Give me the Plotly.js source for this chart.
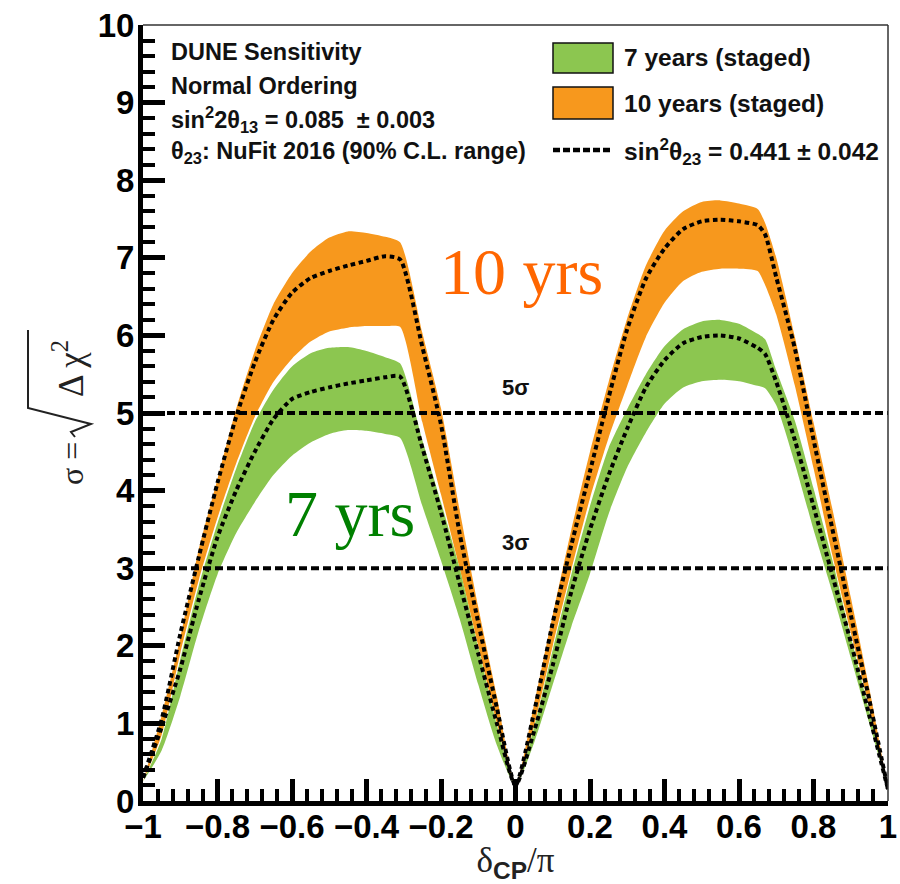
<!DOCTYPE html>
<html>
<head>
<meta charset="utf-8">
<script src="https://cdn.plot.ly/plotly-3.0.1.min.js"></script>
<style>html,body{margin:0;padding:0;background:#fff}</style>
</head>
<body>
<div id="chart" style="width:900px;height:884px"></div>
<script>
// δCP/π sampling points shared by all curves
const deltaCP = [-1, -0.95, -0.9, -0.85, -0.8, -0.75, -0.7, -0.65, -0.6, -0.55, -0.5, -0.45, -0.4, -0.35, -0.31,
  -0.25, -0.2, -0.15, -0.1, -0.05, 0, 0.05, 0.1, 0.15, 0.2, 0.25, 0.3, 0.35, 0.4, 0.45, 0.5, 0.55, 0.6, 0.65, 0.67,
  0.7, 0.75, 0.8, 0.85, 0.9, 0.95, 1];

// 10 years (staged): band edges and central sin²θ23 curve
const sig10Upper = [0.25, 1.1, 2.1, 3.25, 4.15, 5.05, 5.8, 6.4, 6.8, 7.08, 7.26, 7.34, 7.32, 7.27, 7.2,
  6.03, 5.06, 3.75, 2.5, 1.35, 0.2, 1.25, 2.4, 3.5, 4.5, 5.4, 6.22, 6.9, 7.35, 7.6, 7.72, 7.74, 7.7, 7.63, 7.45,
  7.0, 5.98, 4.88, 3.78, 2.63, 1.45, 0.15];
const sig10Lower = [0.25, 0.85, 1.9, 2.85, 3.65, 4.35, 4.95, 5.4, 5.7, 5.92, 6.05, 6.1, 6.12, 6.12, 6.11,
  4.88, 3.95, 3.0, 2.0, 1.0, 0.2, 0.97, 2.0, 2.98, 3.9, 4.68, 5.35, 5.98, 6.42, 6.7, 6.82, 6.86, 6.86, 6.83, 6.65,
  6.27, 5.35, 4.29, 3.18, 2.17, 1.2, 0.15];
const sig10Central = [0.3, 1.05, 2.15, 3.15, 4.1, 4.95, 5.65, 6.2, 6.55, 6.74, 6.83, 6.9, 6.96, 7.02, 6.98,
  5.85, 4.85, 3.45, 2.3, 1.2, 0.2, 1.15, 2.3, 3.3, 4.25, 5.2, 6.08, 6.73, 7.12, 7.37, 7.47, 7.49, 7.47, 7.42, 7.3,
  6.75, 5.83, 4.66, 3.52, 2.4, 1.3, 0.15];

// 7 years (staged): band edges and central sin²θ23 curve
const sig7Upper = [0.25, 0.8, 1.82, 2.78, 3.58, 4.28, 4.88, 5.3, 5.6, 5.77, 5.84, 5.85, 5.8, 5.72, 5.64,
  4.65, 3.85, 3.0, 1.98, 0.98, 0.2, 0.95, 1.95, 2.92, 3.8, 4.55, 5.05, 5.5, 5.86, 6.08, 6.18, 6.2, 6.15, 6.02, 5.95,
  5.55, 4.9, 4.03, 3.12, 2.12, 1.15, 0.15];
const sig7Lower = [0.25, 0.65, 1.35, 2.2, 2.92, 3.45, 3.85, 4.2, 4.45, 4.62, 4.73, 4.78, 4.77, 4.73, 4.68,
  3.8, 3.1, 2.35, 1.5, 0.72, 0.2, 0.75, 1.5, 2.25, 2.93, 3.7, 4.3, 4.75, 5.12, 5.33, 5.41, 5.43, 5.41, 5.35, 5.32,
  5.1, 4.35, 3.5, 2.7, 1.85, 1.0, 0.15];
const sig7Central = [0.3, 0.95, 1.7, 2.6, 3.4, 4.0, 4.5, 4.92, 5.18, 5.27, 5.33, 5.38, 5.42, 5.46, 5.47,
  4.55, 3.72, 2.8, 1.9, 1.0, 0.2, 0.9, 1.75, 2.7, 3.5, 4.2, 4.8, 5.33, 5.68, 5.9, 5.98, 6.0, 5.96, 5.84, 5.76,
  5.4, 4.65, 3.8, 2.92, 2.05, 1.1, 0.15];

// discovery thresholds
const sigmaLevels = [5, 3];
const sigmaLabels = ['5σ', '3σ'];
const xRange = [-1, 1];

const ORANGE = 'rgb(247,152,29)';
const GREEN = 'rgb(140,198,80)';
const SANS = 'Liberation Sans, Arial, sans-serif';
const SERIF = 'Liberation Serif, Times New Roman, serif';

const smooth = {shape: 'spline', smoothing: 0.6};

const traces = [
  {x: deltaCP, y: sig10Lower, mode: 'lines', line: Object.assign({width: 0, color: ORANGE}, smooth),
   hoverinfo: 'skip', showlegend: false},
  {x: deltaCP, y: sig10Upper, mode: 'lines', fill: 'tonexty', fillcolor: ORANGE,
   line: Object.assign({width: 0, color: ORANGE}, smooth), name: '10 years (staged)', showlegend: false},
  {x: deltaCP, y: sig7Lower, mode: 'lines', line: Object.assign({width: 0, color: GREEN}, smooth),
   hoverinfo: 'skip', showlegend: false},
  {x: deltaCP, y: sig7Upper, mode: 'lines', fill: 'tonexty', fillcolor: GREEN,
   line: Object.assign({width: 0, color: GREEN}, smooth), name: '7 years (staged)', showlegend: false}
];

sigmaLevels.forEach(function (lvl) {
  traces.push({x: xRange, y: [lvl, lvl], mode: 'lines', hoverinfo: 'skip', showlegend: false,
    line: {color: '#000', width: 4, dash: '8px,4px'}});
});

[sig10Central, sig7Central].forEach(function (ys) {
  traces.push({x: deltaCP, y: ys, mode: 'lines', showlegend: false, name: 'sin²θ23 = 0.441',
    line: Object.assign({color: '#000', width: 4, dash: '4.5px,3.5px'}, smooth)});
});

// pixel helpers for paper-referenced decorations (plot area 143..888 x 25..801)
const px = function (v) { return (v - 143) / 745; };
const py = function (v) { return (801 - v) / 776; };

const infoLines = [
  'DUNE Sensitivity',
  'Normal Ordering',
  'sin<sup>2</sup>2θ<sub>13</sub> = 0.085  ± 0.003',
  'θ<sub>23</sub>: NuFit 2016 (90% C.L. range)'
];
const infoY = [52, 86, 119, 153];

const legendLabels = ['7 years (staged)', '10 years (staged)', 'sin<sup>2</sup>θ<sub>23</sub> = 0.441 ± 0.042'];
const legendY = [58, 104, 151];

const annotations = [];
infoLines.forEach(function (t, i) {
  annotations.push({xref: 'paper', yref: 'paper', x: px(169), y: py(infoY[i]), xanchor: 'left', yanchor: 'middle',
    text: t, showarrow: false, font: {family: SANS, size: 23.5, color: '#111', weight: 'bold'}});
});
legendLabels.forEach(function (t, i) {
  annotations.push({xref: 'paper', yref: 'paper', x: px(622), y: py(legendY[i]), xanchor: 'left', yanchor: 'middle',
    text: t, showarrow: false, font: {family: SANS, size: 24.5, color: '#111', weight: 'bold'}});
});
sigmaLevels.forEach(function (lvl, i) {
  annotations.push({x: 0, y: lvl, yshift: 26, text: sigmaLabels[i], showarrow: false,
    font: {family: SANS, size: 22, color: '#111', weight: 'bold'}});
});
annotations.push({x: 0.017, y: 6.82, text: '10 yrs', showarrow: false,
  font: {family: SERIF, size: 66, color: '#FF6600'}});
annotations.push({x: -0.444, y: 3.71, text: '7 yrs', showarrow: false,
  font: {family: SERIF, size: 66, color: '#008000'}});
// y-axis label: σ = √(Δχ²), radical sign drawn as a path below
annotations.push({xref: 'paper', yref: 'paper', x: px(72), y: py(464), xanchor: 'center', yanchor: 'middle',
  textangle: -90, showarrow: false, text: 'σ =', font: {family: SERIF, size: 32, color: '#222'}});
annotations.push({xref: 'paper', yref: 'paper', x: px(68), y: py(369), xanchor: 'center', yanchor: 'middle',
  textangle: -90, showarrow: false, text: 'Δ χ<sup>2</sup>', font: {family: SERIF, size: 35, color: '#222'}});

function paperPath(points) {
  return points.map(function (p, i) { return (i ? 'L' : 'M') + px(p[0]) + ',' + py(p[1]); }).join(' ');
}

const shapes = [
  // frame top and right
  {type: 'line', xref: 'paper', yref: 'paper', x0: 0, x1: 1, y0: 1, y1: 1, line: {color: '#333', width: 1.5}},
  {type: 'line', xref: 'paper', yref: 'paper', x0: 1, x1: 1, y0: 0, y1: 1, line: {color: '#333', width: 1.5}},
  // legend swatches
  {type: 'rect', xref: 'paper', yref: 'paper', x0: px(553), x1: px(613), y0: py(73), y1: py(43),
   fillcolor: GREEN, line: {color: '#111', width: 1.5}},
  {type: 'rect', xref: 'paper', yref: 'paper', x0: px(553), x1: px(613), y0: py(119), y1: py(87),
   fillcolor: ORANGE, line: {color: '#111', width: 1.5}},
  {type: 'line', xref: 'paper', yref: 'paper', x0: px(553), x1: px(613), y0: py(150), y1: py(150),
   line: {color: '#000', width: 4.5, dash: '7px,3px'}},
  // radical sign of the y-axis label
  {type: 'path', xref: 'paper', yref: 'paper', path: paperPath([[75, 437], [71, 432], [91, 424], [28, 408], [28, 330]]),
   line: {color: '#222', width: 2}}
];

const axisCommon = {
  showgrid: false, zeroline: false, ticks: 'inside', tickcolor: '#000', tickwidth: 5, ticklen: 22,
  showline: true, linecolor: '#000', linewidth: 5, tickangle: 0,
  tickfont: {family: SANS, size: 33, color: '#000', weight: 'bold'}
};

const layout = {
  width: 900, height: 884,
  margin: {l: 143, r: 12, t: 25, b: 83},
  paper_bgcolor: '#fff', plot_bgcolor: '#fff',
  showlegend: false, hovermode: false,
  xaxis: Object.assign({}, axisCommon, {
    range: xRange, dtick: 0.2, tick0: -1, ticklabelstandoff: -8,
    minor: {dtick: 0.04, ticks: 'inside', ticklen: 12, tickwidth: 4, tickcolor: '#000', showgrid: false},
    title: {text: 'δ<sub><span style="font-family:Arial;font-weight:bold">CP</span></sub>/π', standoff: 6,
      font: {family: SERIF, size: 35, color: '#222'}}
  }),
  yaxis: Object.assign({}, axisCommon, {
    range: [0, 10], dtick: 1, tick0: 0, ticklabelstandoff: -3,
    minor: {dtick: 0.2, ticks: 'inside', ticklen: 12, tickwidth: 4, tickcolor: '#000', showgrid: false}
  }),
  annotations: annotations,
  shapes: shapes
};

Plotly.newPlot('chart', traces, layout, {displayModeBar: false, staticPlot: true});
</script>
</body>
</html>
